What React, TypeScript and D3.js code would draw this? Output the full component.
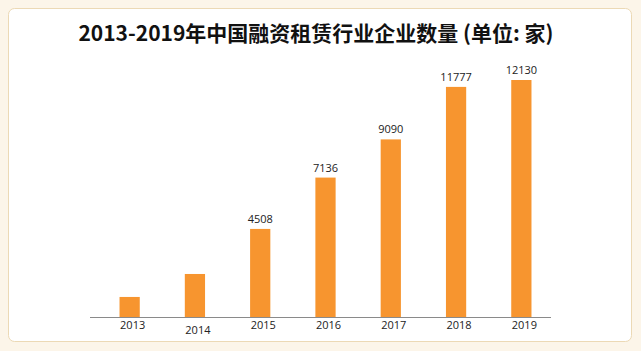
import { useEffect, useRef } from 'react';
import * as d3 from 'd3';

const years = ['2013', '2014', '2015', '2016', '2017', '2018', '2019'];
const counts = [1026, 2202, 4508, 7136, 9090, 11777, 12130];
const labelled = [false, false, true, true, true, true, true];
const title = '2013-2019年中国融资租赁行业企业数量 (单位: 家)';

const W = 641;
const H = 351;

export default function App() {
  const svgRef = useRef<SVGSVGElement | null>(null);

  useEffect(() => {
    if (!svgRef.current) return;
    const svg = d3.select(svgRef.current);
    svg.selectAll('*').remove();

    const font = '"Open Sans", "Noto Sans", sans-serif';
    const axisY = 317;

    svg.append('rect').attr('width', W).attr('height', H).attr('fill', '#fcf5e9');

    // card
    svg.append('rect')
      .attr('x', 8.5).attr('y', 8.5)
      .attr('width', 623).attr('height', 333)
      .attr('rx', 6)
      .attr('fill', '#ffffff')
      .attr('stroke', '#ecd9b5')
      .attr('stroke-width', 1);

    svg.append('text')
      .attr('x', 316).attr('y', 41)
      .attr('text-anchor', 'middle')
      .attr('font-family', '"Noto Sans CJK SC", sans-serif')
      .attr('font-weight', 'bold')
      .attr('font-size', 21)
      .attr('fill', '#111')
      .text(title);

    const x = d3.scaleBand()
      .domain(years)
      .range([97, 554])
      .paddingInner(0.69)
      .paddingOuter(0.345);

    const y = d3.scaleLinear()
      .domain([0, d3.max(counts) || 0])
      .range([axisY, 80]);

    const data = years.map((yr, i) => ({ yr, v: counts[i], show: labelled[i] }));

    svg.append('g')
      .selectAll('rect')
      .data(data)
      .join('rect')
      .attr('x', d => x(d.yr)!)
      .attr('width', x.bandwidth())
      .attr('y', d => y(d.v))
      .attr('height', d => axisY - y(d.v))
      .attr('fill', '#f7952f');

    svg.append('g')
      .selectAll('text')
      .data(data.filter(d => d.show))
      .join('text')
      .attr('x', d => x(d.yr)! + x.bandwidth() / 2)
      .attr('y', d => y(d.v) - 6)
      .attr('text-anchor', 'middle')
      .attr('font-family', font)
      .attr('font-size', 11)
      .attr('fill', '#222')
      .text(d => d.v);

    // axis line
    svg.append('line')
      .attr('x1', 90).attr('x2', 551)
      .attr('y1', axisY + 0.5).attr('y2', axisY + 0.5)
      .attr('stroke', '#8a8a8a')
      .attr('stroke-width', 1);

    svg.append('g')
      .selectAll('text')
      .data(data)
      .join('text')
      .attr('x', d => x(d.yr)! + x.bandwidth() / 2 + 3)
      .attr('y', (d, i) => axisY + 12 + (i === 1 ? 5 : 0))
      .attr('text-anchor', 'middle')
      .attr('font-family', font)
      .attr('font-size', 11)
      .attr('fill', '#222')
      .text(d => d.yr);
  }, []);

  return (
    <svg
      ref={svgRef}
      width={W}
      height={H}
      style={{ position: 'fixed', left: 0, top: 0, display: 'block' }}
    />
  );
}
